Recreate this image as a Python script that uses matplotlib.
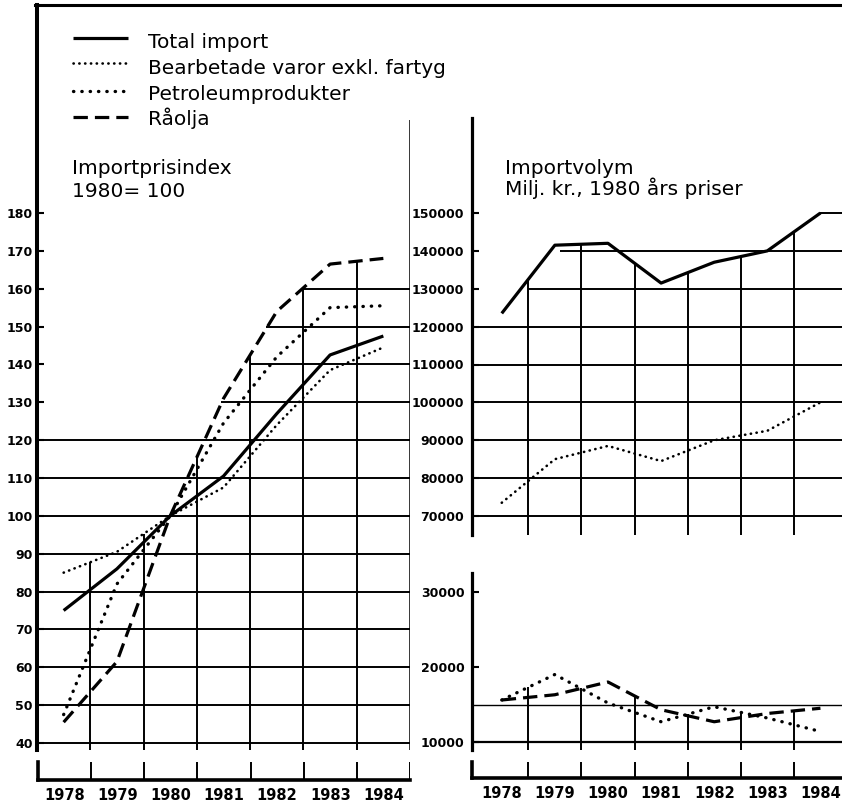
import numpy as np
import matplotlib
matplotlib.use("Agg")
import matplotlib.pyplot as plt
from matplotlib.lines import Line2D

# === Data ===
years = ["1978", "1979", "1980", "1981", "1982", "1983", "1984"]

# Importprisindex, 1980 = 100
pris_total = [75, 86, 100, 110.5, 127, 142.5, 147.5]
pris_bearb = [85, 90.5, 100, 107.5, 124, 138.5, 144.5]
pris_petro = [47.5, 82, 100, 124.5, 142, 155, 155.5]
pris_raolja = [45.5, 61.5, 100, 131, 154, 166.5, 168]

# Importvolym, milj. kr., 1980 års priser
vol_total = [123500, 141500, 142000, 131500, 137000, 140000, 150000]
vol_bearb = [73500, 85000, 88500, 84500, 90000, 92500, 100000]
vol_petro = [15600, 19000, 15200, 12700, 14700, 13200, 11400]
vol_raolja = [15600, 16300, 18000, 14300, 12700, 13800, 14500]

pris_ticks = list(range(40, 190, 10))
vol_ticks_top = list(range(70000, 160000, 10000))
vol_ticks_bottom = [10000, 20000, 30000]

# === Line styles ===
styles = {
    "Total import": dict(color="black", lw=2.3, ls="-", solid_capstyle="butt"),
    "Bearbetade varor exkl. fartyg": dict(color="black", lw=1.9, ls=(0, (0.1, 2.1)),
                                          dash_capstyle="round"),
    "Petroleumprodukter": dict(color="black", lw=2.4, ls=(0, (0.1, 2.4)),
                               dash_capstyle="round"),
    "Råolja": dict(color="black", lw=2.3, ls=(0, (4.5, 2.2)), dash_capstyle="butt"),
}
names = list(styles.keys())

W, H = 842, 807
fig = plt.figure(figsize=(W / 100, H / 100), dpi=100)


def add_ax(x0, y0, x1, y1):
    # pixel box (top-left origin) -> figure fraction axes
    return fig.add_axes([x0 / W, 1 - y1 / H, (x1 - x0) / W, (y1 - y0) / H])


x = np.arange(len(years)) + 0.5
bounds = np.arange(1, 7)
tick_font = dict(fontsize=9, fontweight="bold")


def style_axis(ax, ticks, labels, spine_lw, pad):
    for s in ["top", "right", "bottom"]:
        ax.spines[s].set_visible(False)
    ax.spines["left"].set_linewidth(spine_lw)
    ax.set_xticks([])
    ax.set_yticks(ticks)
    ax.set_yticklabels(labels, **tick_font)
    ax.tick_params(axis="y", direction="in", length=5, width=1.5, pad=pad)
    ax.patch.set_alpha(0)


# === Left panel: Importprisindex ===
ax1 = add_ax(37, 5, 410, 750)
ax1.set_xlim(0, 7)
ax1.set_ylim(40 - 7 / 3.786, 180 + 208 / 3.786)
style_axis(ax1, pris_ticks, [str(t) for t in pris_ticks], 2.9, 3)

pris_series = [pris_total, pris_bearb, pris_petro, pris_raolja]
grid_start_left = {130: 3.46, 140: 4.0, 150: 4.3, 160: 4.97}
for lev in pris_ticks:
    if lev <= 120:
        ax1.hlines(lev, 0, 7, color="black", lw=1.4, zorder=1)
    elif lev in grid_start_left:
        ax1.hlines(lev, grid_start_left[lev], 7, color="black", lw=1.4, zorder=1)
env = np.max([np.interp(bounds, x, s) for s in pris_series], axis=0)
ax1.vlines(bounds, ax1.get_ylim()[0], env, color="black", lw=1.4, zorder=1)
ax1.vlines(7, ax1.get_ylim()[0], 204.5, color="black", lw=1.1, zorder=1)

for name, s in zip(names, pris_series):
    ax1.plot(x, s, zorder=3, **styles[name])

# === Right top panel: Importvolym ===
ax2 = add_ax(472, 118, 847, 535)
ax2.set_xlim(-0.06, 7)
ax2.set_ylim(70000 - 19 / 3.7875 * 1000, 150000 + 95 / 3.7875 * 1000)
style_axis(ax2, vol_ticks_top, [str(t) for t in vol_ticks_top], 2.3, 5.5)

grid_start_top = {130000: 1.0, 140000: 1.6, 150000: 6.5}
for lev in vol_ticks_top:
    start = grid_start_top.get(lev, -0.06)
    ax2.hlines(lev, start, 7, color="black", lw=1.4, zorder=1)
ax2.vlines(bounds, ax2.get_ylim()[0], np.interp(bounds, x, vol_total),
           color="black", lw=1.4, zorder=1)
ax2.plot(x, vol_total, zorder=3, **styles["Total import"])
ax2.plot(x, vol_bearb, zorder=3, **styles["Bearbetade varor exkl. fartyg"])

# === Right bottom panel ===
ax3 = add_ax(472, 573, 847, 750)
ax3.set_xlim(-0.06, 7)
ax3.set_ylim(10000 - 8 / 7.5 * 1000, 30000 + 19 / 7.5 * 1000)
style_axis(ax3, vol_ticks_bottom, [str(t) for t in vol_ticks_bottom], 2.3, 5.5)

ax3.hlines(10000, -0.06, 7, color="black", lw=1.6, zorder=1)
ax3.hlines(15000, -0.06, 7, color="black", lw=1.0, zorder=1)
env3 = np.maximum(np.interp(bounds, x, vol_petro), np.interp(bounds, x, vol_raolja))
ax3.vlines(bounds, ax3.get_ylim()[0], env3, color="black", lw=1.4, zorder=1)
ax3.plot(x, vol_petro, zorder=3, **styles["Petroleumprodukter"])
ax3.plot(x, vol_raolja, zorder=3, **styles["Råolja"])

# === Year brackets under both panels ===
for (x0, x1, y1, xmin) in [(38, 410, 780, 0), (472, 847, 778, -0.06)]:
    axb = add_ax(x0, 762, x1, y1)
    axb.set_xlim(xmin, 7)
    axb.set_ylim(0, 1)
    axb.spines["top"].set_visible(False)
    axb.spines["right"].set_visible(False)
    axb.spines["bottom"].set_linewidth(2.6)
    axb.spines["left"].set_linewidth(2.6)
    axb.vlines(np.arange(1, 8), 0, 1, color="black", lw=1.4)
    axb.set_yticks([])
    axb.set_xticks(x)
    axb.set_xticklabels(years, fontsize=10.5, fontweight="bold")
    axb.tick_params(axis="x", length=0, pad=6)
    axb.patch.set_alpha(0)

# === Frame line on top ===
fig.add_artist(Line2D([35 / W, 1], [1 - 5 / H, 1 - 5 / H], color="black", lw=2.2))

# === Legend (drawn by hand) ===
leg_line_y = [38, 63, 91, 117]
leg_text_y = [47.5, 74, 99.5, 125]
for name, ly, ty in zip(names, leg_line_y, leg_text_y):
    fig.add_artist(Line2D([73 / W, 128 / W], [1 - ly / H, 1 - ly / H], **styles[name]))
    fig.text(148 / W, 1 - ty / H, name, fontsize=14.5, va="baseline")

# === Panel titles (baseline = last line) ===
fig.text(72 / W, 1 - 197 / H, "Importprisindex\n1980= 100", fontsize=14.5,
         va="baseline", linespacing=1.25)
fig.text(505 / W, 1 - 195 / H, "Importvolym\nMilj. kr., 1980 års priser", fontsize=14.5,
         va="baseline", linespacing=0.95)

fig.savefig("out.png", dpi=100)
